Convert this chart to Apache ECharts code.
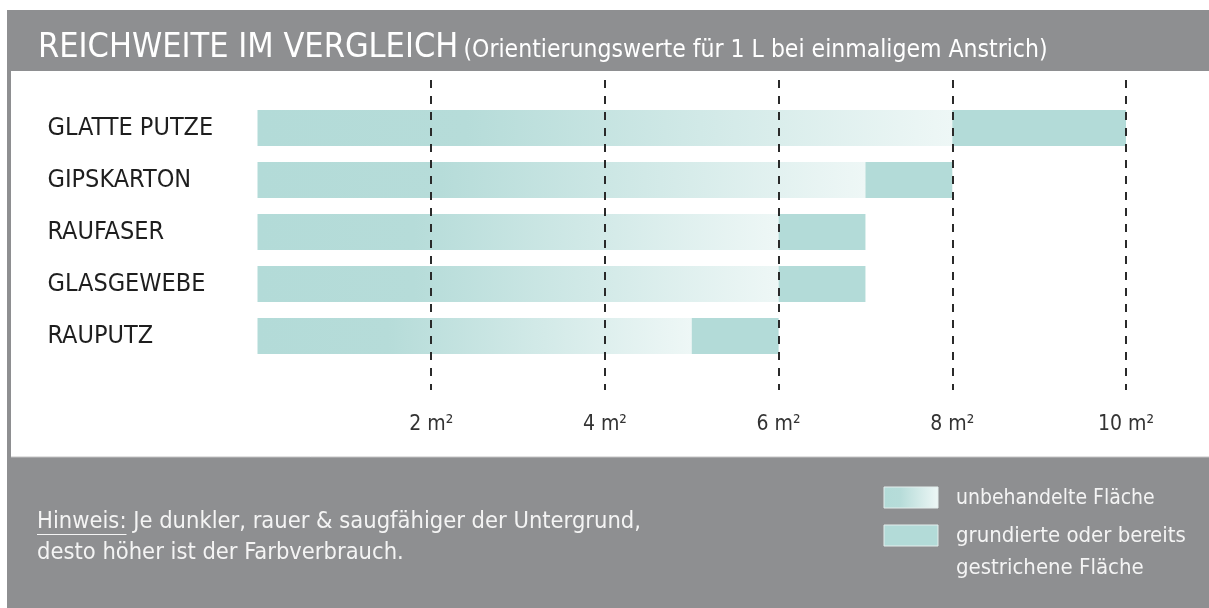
<!DOCTYPE html>
<html><head><meta charset="utf-8">
<script src="https://cdn.jsdelivr.net/npm/echarts@6/dist/echarts.min.js"></script>
<style>html,body{margin:0;padding:0;background:#fff}#c{width:1209px;height:608px}</style>
</head><body><div id="c"></div><script>
// ---- data ----
const categories = ['GLATTE PUTZE', 'GIPSKARTON', 'RAUFASER', 'GLASGEWEBE', 'RAUPUTZ'];
const untreatedEnd = [8, 7, 6, 6, 5];      // m² per litre, untreated surface
const primedEnd = [10, 8, 7, 7, 6];        // m² per litre, primed / painted surface
const xTicks = [2, 4, 6, 8, 10];
const seriesNames = ['unbehandelte Fläche', 'grundierte oder bereits gestrichene Fläche'];
const titleMain = 'REICHWEITE IM VERGLEICH';
const titleSub = '(Orientierungswerte für 1 L bei einmaligem Anstrich)';
const noteHead = 'Hinweis:';
const noteLine1 = ' Je dunkler, rauer & saugfähiger der Untergrund,';
const noteLine2 = 'desto höher ist der Farbverbrauch.';
const legendLines = ['unbehandelte Fläche', 'grundierte oder bereits', 'gestrichene Fläche'];

// ---- styles ----
const FONT = '"Liberation Sans Narrow","DejaVu Sans Condensed",sans-serif';
const GRAY = '#8e8f91';
const TEAL = '#b3dbd8';
const TXT = '#f4f4f4';
const NOTE_FONT = '23.5px ' + FONT;
const grad = () => new echarts.graphic.LinearGradient(0, 0, 1, 0, [
  { offset: 0, color: TEAL }, { offset: 0.3, color: '#b6dcd9' }, { offset: 1, color: '#eef7f6' }
]);

const primedPart = primedEnd.map((v, i) => v - untreatedEnd[i]);

const mctx = document.createElement('canvas').getContext('2d');
mctx.font = NOTE_FONT;
const headW = mctx.measureText(noteHead).width;

const chart = echarts.init(document.getElementById('c'));
chart.setOption({
  backgroundColor: '#ffffff',
  animation: false,
  textStyle: { fontFamily: FONT },
  title: {
    left: 33, top: 26,
    text: '{a|' + titleMain + '} {b|' + titleSub + '}',
    textStyle: {
      fontWeight: 'normal',
      rich: {
        a: { fontFamily: FONT, fontSize: 34, fontWeight: 'normal', color: '#ffffff' },
        b: { fontFamily: FONT, fontSize: 24.5, fontWeight: 'normal', color: '#ffffff', padding: [5, 0, 0, 0] }
      }
    }
  },
  grid: [
    { left: 257.5, right: 83, top: 80, height: 310 },
    { left: 257.5, right: 83, top: 102, height: 260 }
  ],
  xAxis: [
    {
      gridIndex: 0, type: 'value', min: 0, max: 10, interval: 2, z: 10,
      axisLine: { show: false }, axisTick: { show: false },
      splitLine: { show: true, showMinLine: false, lineStyle: { color: '#2a2a2a', width: 2, type: [8, 8] } },
      axisLabel: { margin: 24, fontSize: 21, color: '#333', fontFamily: FONT,
        formatter: v => xTicks.includes(v) ? v + ' m²' : '' }
    },
    { gridIndex: 1, type: 'value', min: 0, max: 10, show: false, splitLine: { show: false } }
  ],
  yAxis: [
    { gridIndex: 0, type: 'value', show: false, splitLine: { show: false } },
    {
      gridIndex: 1, type: 'category', data: categories, inverse: true,
      axisLine: { show: false }, axisTick: { show: false },
      axisLabel: { align: 'left', margin: 210, fontSize: 25, color: '#1e1e1e', fontFamily: FONT }
    }
  ],
  series: [
    { name: seriesNames[0], type: 'bar', xAxisIndex: 1, yAxisIndex: 1, stack: 's', barWidth: 36,
      itemStyle: { color: grad() }, data: untreatedEnd },
    { name: seriesNames[1], type: 'bar', xAxisIndex: 1, yAxisIndex: 1, stack: 's', barWidth: 36,
      itemStyle: { color: TEAL }, data: primedPart }
  ],
  graphic: [
    { type: 'rect', z: -10, silent: true, shape: { x: 7, y: 10, width: 1202, height: 598 }, style: { fill: GRAY } },
    { type: 'rect', z: -9, silent: true, shape: { x: 11, y: 71, width: 1198, height: 386 }, style: { fill: '#ffffff' } },
    { type: 'line', z: -8, silent: true, shape: { x1: 11, y1: 457, x2: 1209, y2: 457 }, style: { stroke: '#c4c4c5', lineWidth: 1 } },
    // note
    { type: 'text', x: 37, y: 522, style: { text: noteHead + noteLine1, font: NOTE_FONT, fill: TXT, verticalAlign: 'middle' } },
    { type: 'line', shape: { x1: 37, y1: 534.5, x2: 37 + headW, y2: 534.5 }, style: { stroke: TXT, lineWidth: 1.2 } },
    { type: 'text', x: 37, y: 553, style: { text: noteLine2, font: NOTE_FONT, fill: TXT, verticalAlign: 'middle' } },
    // legend
    { type: 'rect', shape: { x: 884, y: 487, width: 54, height: 21 }, style: { fill: grad(), stroke: '#e4eeed', lineWidth: 1 } },
    { type: 'rect', shape: { x: 884, y: 525, width: 54, height: 21 }, style: { fill: TEAL, stroke: '#e4eeed', lineWidth: 1 } },
    { type: 'text', x: 956, y: 499, style: { text: legendLines[0], font: '21px ' + FONT, fill: TXT, verticalAlign: 'middle' } },
    { type: 'text', x: 956, y: 536, style: { text: legendLines[1], font: '22px ' + FONT, fill: TXT, verticalAlign: 'middle' } },
    { type: 'text', x: 956, y: 568, style: { text: legendLines[2], font: '22px ' + FONT, fill: TXT, verticalAlign: 'middle' } }
  ]
});
</script></body></html>
